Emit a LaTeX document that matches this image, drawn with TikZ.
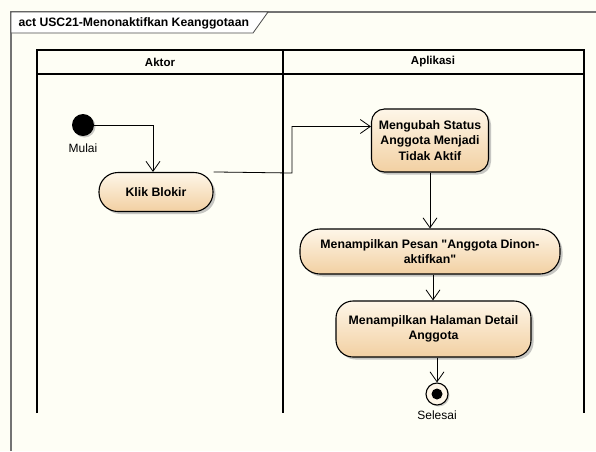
\documentclass[tikz,border=0pt]{standalone}
\usepackage{fontspec}
\setmainfont{Liberation Sans}[Ligatures=TeXOff]
\usetikzlibrary{arrows.meta,shadows,calc}
\definecolor{paper}{HTML}{FEFEF5}
\definecolor{actlight}{HTML}{FEF6E8}
\definecolor{actdark}{HTML}{F2D0A2}
\begin{document}
\begin{tikzpicture}[x=1pt,y=-1pt,
  every node/.style={font=\fontsize{12}{14}\selectfont},
  action/.style={draw=black, line width=1.1pt, align=center,
    font=\fontsize{12.3}{15.5}\selectfont\bfseries,
    top color=actlight, bottom color=actdark, shading angle=0,
    drop shadow={shadow xshift=2.5pt, shadow yshift=-2.5pt, fill=black!40, opacity=0.55},
    inner sep=0pt},
  flow/.style={draw=black, line width=0.8pt, -{Straight Barb[length=10pt,width=14pt,line width=0.8pt]}},
  lane/.style={draw=black, line width=1.4pt},
  header/.style={font=\fontsize{11.5}{13}\selectfont\bfseries}
]
% background and bounding box
\fill[paper] (0,0) rectangle (596,451);
\useasboundingbox (0,0) rectangle (596,451);

% diagram frame with name tab
\draw[black!55, line width=1.2pt] (11,451) -- (11,12) -- (596,12);
\draw[black!70, line width=0.8pt, fill=white] (11,12) -- (268,12) -- (253,33) -- (11,33) -- cycle;
\node[anchor=west, font=\fontsize{12.2}{14}\selectfont\bfseries] (title) at (15,23) {act USC21-Menonaktifkan Keanggotaan};

% swimlanes
\draw[lane] (37,413) -- (37,50) -- (584,50) -- (584,413);
\draw[lane] (37,74) -- (584,74);
\draw[lane] (283,50) -- (283,413);
\node[header] (laneA) at (160,62) {Aktor};
\node[header] (laneB) at (433,62) {Aplikasi};

% initial node
\node[circle, fill=black, minimum size=22pt, inner sep=0pt,
  drop shadow={shadow xshift=1.5pt, shadow yshift=-1.5pt, fill=black!40}] (start) at (83,125) {};
\node (mulai) at (83,148) {Mulai};

% actions
\node[action, minimum width=114pt, minimum height=39pt, rounded corners=19pt] (klik) at (156,192) {Klik Blokir};
\node[action, minimum width=117pt, minimum height=63pt, rounded corners=13pt] (ubah) at (430,140.5) {Mengubah Status\\Anggota Menjadi\\Tidak Aktif};
\node[action, minimum width=260pt, minimum height=45pt, rounded corners=20pt] (pesan) at (430,251.5) {Menampilkan Pesan "Anggota Dinon-\\aktifkan"};
\node[action, minimum width=195pt, minimum height=56pt, rounded corners=17pt] (detail) at (433.5,329) {Menampilkan Halaman Detail\\Anggota};

% final node
\node[circle, draw=black, line width=1.1pt, fill=actlight, minimum size=22pt, inner sep=0pt,
  drop shadow={shadow xshift=1.5pt, shadow yshift=-1.5pt, fill=black!40}] (end) at (437,394) {};
\fill[black] (end.center) circle (5.5pt);
\node (selesai) at (437,415) {Selesai};

% control flows
\draw[flow] (start.east) -| ([xshift=-3pt]klik.north);
\coordinate (bend) at (292,173);
\draw[flow] (klik.north east) -- (bend) |- ([yshift=14pt]ubah.west);
\draw[flow] (ubah.south) -- (ubah.south |- pesan.north);
\draw[flow] ([xshift=3pt]pesan.south) -- ([xshift=3pt]pesan.south |- detail.north);
\draw[flow] (detail.south -| end) -- (end.north);
\end{tikzpicture}
\end{document}
